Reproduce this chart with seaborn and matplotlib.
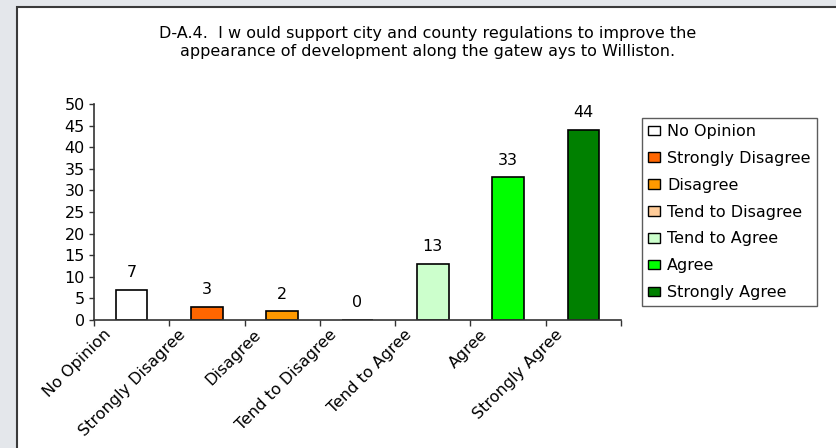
import numpy as np
import pandas as pd
import seaborn as sns
import matplotlib.pyplot as plt
import matplotlib.transforms as mtransforms
from matplotlib.patches import Rectangle

# Data
categories = ["No Opinion", "Strongly Disagree", "Disagree", "Tend to Disagree",
              "Tend to Agree", "Agree", "Strongly Agree"]
counts = [7, 3, 2, 0, 13, 33, 44]
colors = ["#FFFFFF", "#FF6600", "#FF9900", "#FFCC99", "#CCFFCC", "#00FF00", "#008000"]
title_lines = ["D-A.4.  I w ould support city and county regulations to improve the",
               "appearance of development along the gatew ays to Williston."]

df = pd.DataFrame({"category": categories, "count": counts})
palette = dict(zip(categories, colors))

sns.set_style("white")
plt.rcParams["font.family"] = ["DejaVu Sans"]
plt.rcParams["text.color"] = "black"
plt.rcParams["xtick.labelcolor"] = "black"
plt.rcParams["ytick.labelcolor"] = "black"
FS = 11.5

fig = plt.figure(figsize=(8.37, 4.48), dpi=100)
fig.patch.set_facecolor("#E4E7EB")

# white panel with dark border (runs off right and bottom edges)
W, H = 837, 448
panel = Rectangle((17 / W, -0.05), 1.2, 1 - 7 / H + 0.05, transform=fig.transFigure,
                  facecolor="white", edgecolor="#3A3A3A", linewidth=1.5, zorder=-5)
fig.patches.append(panel)

ax = fig.add_axes([94 / W, 1 - 320 / H, (621 - 94) / W, (320 - 104) / H])
ax.set_facecolor("none")
ax.set_zorder(2)

sns.barplot(data=df, x="category", y="count", hue="category", palette=palette,
            order=categories, hue_order=categories, width=0.42, dodge=False,
            saturation=1, edgecolor="black", linewidth=1.2, legend=True, ax=ax)

for c in ax.containers:
    ax.bar_label(c, fmt="%d", padding=7, fontsize=FS)

ax.set_xlim(-0.5, len(categories) - 0.5)
ax.set_ylim(0, 50)
ax.set_yticks(np.arange(0, 51, 5))
ax.set_xlabel("")
ax.set_ylabel("")

for side in ["top", "right"]:
    ax.spines[side].set_visible(False)
for side in ["left", "bottom"]:
    ax.spines[side].set_color("#333333")
    ax.spines[side].set_linewidth(1.2)
    ax.spines[side].set_zorder(3)

ax.tick_params(axis="y", which="major", left=True, length=3.5, width=1, color="#333333",
               labelsize=FS, pad=3)
ax.set_xticks(range(len(categories)))
ax.set_xticks(np.arange(-0.5, len(categories), 1), minor=True)
ax.tick_params(axis="x", which="major", bottom=True, length=0, labelsize=FS, pad=2)
ax.tick_params(axis="x", which="minor", bottom=True, length=4, width=1, color="#333333")
offset = mtransforms.ScaledTranslation(-18 / 100, -4 / 100, fig.dpi_scale_trans)
for lbl in ax.get_xticklabels():
    lbl.set_rotation(45)
    lbl.set_ha("right")
    lbl.set_va("top")
    lbl.set_transform(lbl.get_transform() + offset)

# legend rebuilt with Excel-like styling
old = ax.get_legend()
handles = old.legend_handles
labels = [t.get_text() for t in old.get_texts()]
old.remove()
for h in handles:
    h.set_edgecolor("black")
    h.set_linewidth(1)
leg = fig.legend(handles, labels, loc="upper left", bbox_to_anchor=(642 / W, 1 - 118 / H),
                 bbox_transform=fig.transFigure, frameon=True, fancybox=False,
                 edgecolor="#333333", fontsize=FS, handlelength=0.75, handleheight=0.55,
                 handletextpad=0.45, labelspacing=0.74, borderpad=0.38, borderaxespad=0)
leg.get_frame().set_linewidth(1)

fig.text(428 / W, 1 - 42.5 / H, "\n".join(title_lines), ha="center", va="center",
         fontsize=FS, linespacing=1.25)

plt.savefig("out.png", dpi=100)
plt.close()
